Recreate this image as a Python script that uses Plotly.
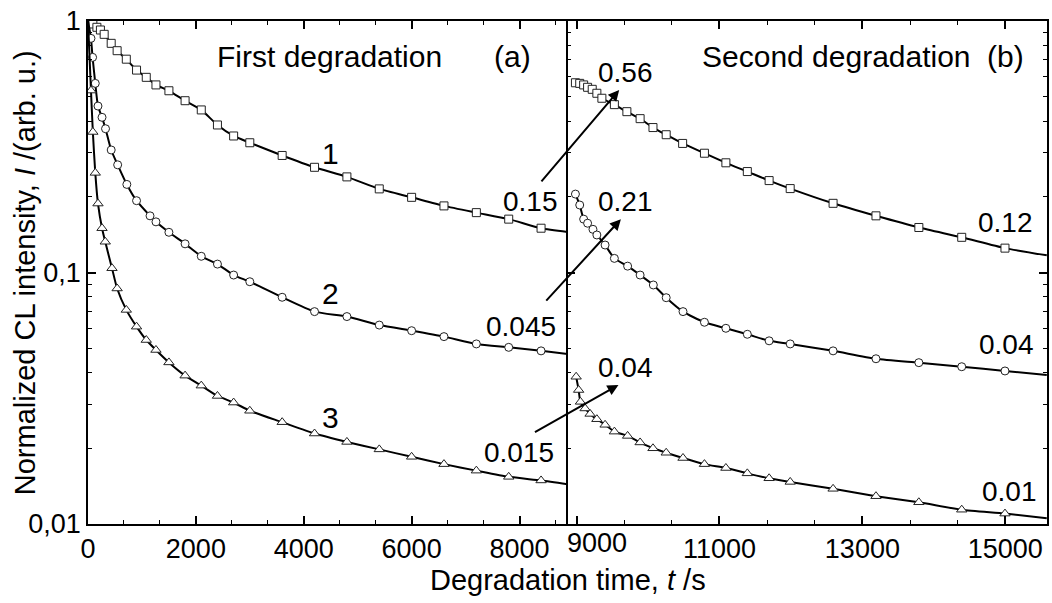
import plotly.graph_objects as go

# ---------------- data ----------------
t1a = [0, 30, 90, 165, 230, 300, 430, 540, 710, 900, 1080, 1260, 1500, 1800, 2100, 2400, 2700, 3000,
       3600, 4200, 4800, 5400, 6000, 6600, 7200, 7800, 8400, 8890]
i1a = [1.0, 0.99, 0.973, 0.944, 0.921, 0.885, 0.815, 0.762, 0.705, 0.638, 0.597, 0.557, 0.528, 0.482,
       0.443, 0.386, 0.349, 0.328, 0.292, 0.262, 0.240, 0.215, 0.199, 0.184, 0.173, 0.163, 0.150, 0.145]

t2a = [0, 55, 85, 135, 185, 260, 325, 430, 550, 720, 900, 1150, 1260, 1500, 1800, 2100, 2400, 2700, 3000,
       3600, 4200, 4800, 5400, 6000, 6600, 7200, 7800, 8400, 8890]
i2a = [1.0, 0.853, 0.717, 0.565, 0.459, 0.414, 0.373, 0.307, 0.268, 0.224, 0.193, 0.168, 0.159, 0.1445,
       0.130, 0.116, 0.108, 0.0977, 0.0919, 0.0797, 0.0699, 0.0668, 0.0618, 0.0587, 0.0556, 0.052, 0.0504,
       0.0488, 0.0474]

t3a = [0, 55, 90, 135, 185, 260, 320, 445, 540, 710, 900, 1080, 1260, 1500, 1800, 2100, 2400, 2700, 3000,
       3600, 4200, 4800, 5400, 6000, 6600, 7200, 7800, 8400, 8890]
i3a = [1.0, 0.529, 0.362, 0.249, 0.188, 0.150, 0.1325, 0.104, 0.0864, 0.0710, 0.0609, 0.0539, 0.0492,
       0.0439, 0.0389, 0.0355, 0.0323, 0.0304, 0.0282, 0.0254, 0.0229, 0.0212, 0.0198, 0.0185, 0.0173,
       0.0163, 0.0154, 0.0149, 0.0144]

t1b = [8985, 9045, 9100, 9155, 9220, 9285, 9355, 9530, 9705, 9890, 10070, 10255, 10485, 10790, 11090,
       11390, 11695, 11990, 12590, 13190, 13790, 14390, 14995, 15580]
i1b = [0.568, 0.565, 0.557, 0.545, 0.535, 0.516, 0.493, 0.465, 0.436, 0.409, 0.377, 0.353, 0.326, 0.298,
       0.273, 0.252, 0.232, 0.2156, 0.1884, 0.168, 0.151, 0.138, 0.125, 0.117]

t2b = [8985, 9045, 9100, 9155, 9230, 9285, 9400, 9530, 9715, 9890, 10075, 10255, 10490, 10790, 11090,
       11390, 11695, 11990, 12590, 13190, 13790, 14390, 14995, 15580]
i2b = [0.205, 0.1855, 0.163, 0.157, 0.1485, 0.141, 0.1286, 0.1138, 0.106, 0.0977, 0.0892, 0.0794, 0.0699,
       0.0634, 0.060, 0.0568, 0.0535, 0.052, 0.0488, 0.0454, 0.0438, 0.0422, 0.0406, 0.0391]

t3b = [8995, 9030, 9055, 9120, 9190, 9285, 9400, 9530, 9715, 9890, 10070, 10255, 10490, 10790, 11090,
       11390, 11695, 11990, 12590, 13190, 13790, 14390, 14995, 15580]
i3b = [0.0385, 0.0341, 0.0306, 0.0288, 0.0274, 0.0261, 0.0248, 0.0233, 0.0224, 0.0211, 0.0200, 0.0192,
       0.0183, 0.0173, 0.0167, 0.0159, 0.0152, 0.0147, 0.0138, 0.0129, 0.0122, 0.0114, 0.0110, 0.01054]

curve_labels = ["1", "2", "3"]
end_values_a = ["0.15", "0.045", "0.015"]
start_values_b = ["0.56", "0.21", "0.04"]
end_values_b = ["0.12", "0.04", "0.01"]
panel_titles = ["First degradation", "Second degradation"]
panel_letters = ["(a)", "(b)"]
x_ticks_a = [0, 2000, 4000, 6000, 8000]
x_ticks_b = [9000, 11000, 13000, 15000]
y_ticks = [0.01, 0.1, 1]
y_ticktext = ["0,01", "0,1", "1"]

# ---------------- figure ----------------
FONT = "Liberation Sans, Arial, sans-serif"
fig = go.Figure()

series = [
    (t1a, i1a, "square", "x", "y", True),
    (t2a, i2a, "circle", "x", "y", True),
    (t3a, i3a, "triangle-up", "x", "y", True),
    (t1b, i1b, "square", "x2", "y2", False),
    (t2b, i2b, "circle", "x2", "y2", False),
    (t3b, i3b, "triangle-up", "x2", "y2", False),
]
for t, v, sym, xa, ya, has_start in series:
    fig.add_trace(go.Scatter(x=t, y=v, mode="lines", xaxis=xa, yaxis=ya,
                             line=dict(color="black", width=2, shape="spline", smoothing=0.6),
                             showlegend=False, hoverinfo="skip"))
    mt = t[1:-1] if has_start else t[:-1]
    mv = v[1:-1] if has_start else v[:-1]
    fig.add_trace(go.Scatter(x=mt, y=mv, mode="markers", xaxis=xa, yaxis=ya,
                             marker=dict(symbol=sym, size=8 if sym != "triangle-up" else 9,
                                         color="white", line=dict(color="#222", width=1)),
                             showlegend=False))

axis_common = dict(showline=True, linecolor="black", linewidth=1.5, showgrid=False, zeroline=False,
                   ticks="inside", ticklen=8, tickwidth=1.5, tickcolor="black", automargin=False,
                   tickfont=dict(family=FONT, size=27, color="black"))
minor_common = dict(ticks="inside", ticklen=4, tickwidth=1.2, tickcolor="black", showgrid=False)

fig.update_layout(
    width=1052, height=603,
    margin=dict(l=88, r=5, t=21, b=79),
    paper_bgcolor="white", plot_bgcolor="white",
    xaxis=dict(domain=[0, 0.5], range=[0, 8890], tickvals=x_ticks_a, mirror="ticks", anchor="y",
               minor=dict(dtick=2000 / 3, tick0=0, **minor_common), **axis_common),
    xaxis2=dict(domain=[0.5, 1], range=[8874, 15583], tickvals=x_ticks_b,
                ticktext=["", "11000", "13000", "15000"], mirror="ticks", anchor="y2",
                minor=dict(dtick=2000 / 3, tick0=9000, **minor_common), **axis_common),
    yaxis=dict(type="log", range=[-2, 0], tickvals=y_ticks, ticktext=y_ticktext, mirror=False,
               anchor="x", minor=dict(dtick="D1", **minor_common), **axis_common),
    yaxis2=dict(type="log", range=[-2, 0], tickvals=y_ticks, showticklabels=False, mirror="ticks",
                anchor="x2", minor=dict(dtick="D1", **minor_common), **axis_common),
)

ann = []
def txt(text, x, y, xref, yref, size=30, **kw):
    d = dict(text=text, x=x, y=y, xref=xref, yref=yref, showarrow=False,
             font=dict(family=FONT, size=size, color="black"), xanchor="center", yanchor="middle")
    d.update(kw)
    ann.append(d)

txt(panel_titles[0], 4477, -0.143, "x", "y")
txt(panel_letters[0], 7863, -0.143, "x", "y")
txt(panel_titles[1], 12639, -0.143, "x2", "y2")
txt(panel_letters[1], 14996, -0.143, "x2", "y2")
for lab, ly in zip(curve_labels, [-0.525, -1.0815, -1.578]):
    txt(lab, 4490, ly, "x", "y")
for lab, ly, lx in zip(end_values_a, [-0.716, -1.213, -1.714], [8197, 8030, 7993]):
    txt(lab, lx, ly, "x", "y", size=28)
for lab, ly in zip(start_values_b, [-0.203, -0.716, -1.376]):
    txt(lab, 9690, ly, "x2", "y2", size=28)
for lab, ly, lx in zip(end_values_b, [-0.803, -1.288, -1.869], [14996, 15010, 15052]):
    txt(lab, lx, ly, "x2", "y2", size=28)

for hx, hy, ax, ay in [(9597, -0.274, -79, 93), (9621, -0.788, -76, 83), (9587, -1.447, -85, 48)]:
    ann.append(dict(x=hx, y=hy, xref="x2", yref="y2", ax=ax, ay=ay, axref="pixel", ayref="pixel",
                    text="", showarrow=True, arrowhead=2, arrowsize=1.1, arrowwidth=2,
                    arrowcolor="black", standoff=0))

txt("9000", 9000, 0, "x2", "paper", size=27, yanchor="top", xshift=20, yshift=-2)

txt("Degradation time, <i>t</i> /s", 0.5, -0.112, "paper", "paper", size=29)
txt("Normalized CL intensity, <i>I</i> /(arb. u.)", -0.066, 0.5, "paper", "paper", size=29,
    textangle=-90)

fig.update_layout(annotations=ann)
fig.write_html("out.html", config={"displayModeBar": False},
               post_script="document.body.style.margin='0';document.body.style.padding='0';")
